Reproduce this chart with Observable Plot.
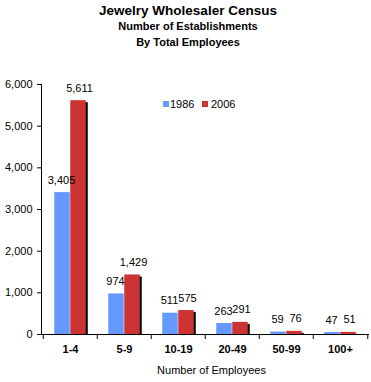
<!DOCTYPE html>
<html>
<head>
<meta charset="utf-8">
<script src="https://cdn.jsdelivr.net/npm/d3@7"></script>
<script src="https://cdn.jsdelivr.net/npm/@observablehq/plot@0.6"></script>
<style>
  body { margin: 0; background: #fff; }
  #wrap { position: relative; width: 371px; height: 382px; font-family: Arial, "Liberation Sans", sans-serif; }
  .t { position: absolute; left: 5px; width: 366px; text-align: center; font-weight: bold; color: #000; white-space: nowrap; }
  .leg { position: absolute; font-size: 11px; line-height: 11px; color: #000; }
  .sw { position: absolute; width: 6px; height: 6px; }
  svg { position: absolute; left: 0; top: 0; }
</style>
</head>
<body>
<div id="wrap">
  <div class="t" style="top:3px;font-size:13.5px;line-height:16px;">Jewelry Wholesaler Census</div>
  <div class="t" style="top:19px;font-size:11px;line-height:14px;">Number of Establishments</div>
  <div class="t" style="top:35px;font-size:11px;line-height:14px;">By Total Employees</div>
</div>
<script>
const categories = ["1-4", "5-9", "10-19", "20-49", "50-99", "100+"];
const years = ["1986", "2006"];
const values1986 = [3405, 974, 511, 263, 59, 47];
const values2006 = [5611, 1429, 575, 291, 76, 51];
const yTicks = [0, 1000, 2000, 3000, 4000, 5000, 6000];
const colors = ["#6699ff", "#cc3333"];
const xTitle = "Number of Employees";

const d1986 = categories.map((c, i) => ({cat: c, value: values1986[i]}));
const d2006 = categories.map((c, i) => ({cat: c, value: values2006[i]}));
const fmt = d3.format(",");
const lastCat = [categories[categories.length - 1]];

const chart = Plot.plot({
  width: 371,
  height: 382,
  marginTop: 84,
  marginBottom: 48,
  marginLeft: 41,
  marginRight: 3,
  style: {fontFamily: "Arial, 'Liberation Sans', sans-serif", fontSize: "11px", background: "transparent", color: "#000"},
  x: {domain: categories, padding: 0, label: null},
  y: {domain: [0, 6000], label: null},
  marks: [
    Plot.barY(d2006, {x: "cat", y: "value", fill: "#000", dx: 2, insetTop: 2, insetLeft: 27.25, insetRight: 11.25}),
    Plot.barY(d1986, {x: "cat", y: "value", fill: colors[0], insetLeft: 11.25, insetRight: 27.25}),
    Plot.barY(d2006, {x: "cat", y: "value", fill: colors[1], insetLeft: 27.25, insetRight: 11.25}),
    Plot.text(d1986, {x: "cat", y: "value", text: d => fmt(d.value), dx: -9, dy: -12.5, fontSize: 11, fill: "#000"}),
    Plot.text(d2006, {x: "cat", y: "value", text: d => fmt(d.value), dx: 9, dy: -12.5, fontSize: 11, fill: "#000"}),
    Plot.frame({anchor: "left", stroke: "#000"}),
    Plot.frame({anchor: "bottom", stroke: "#000"}),
    Plot.axisY({ticks: yTicks, tickFormat: d => fmt(d), tickSize: 4, tickPadding: 5, label: null, fontSize: 11}),
    Plot.axisX({tickSize: 0, tickPadding: 11, label: null, fontWeight: "bold", fontSize: 11}),
    Plot.ruleX(categories, {x: d => d, dx: -27.25, y1: 0, y2: -120, stroke: "#000"}),
    Plot.ruleX(lastCat, {x: d => d, dx: 27.25, y1: 0, y2: -120, stroke: "#000"}),
    Plot.text([xTitle], {text: d => d, frameAnchor: "bottom", dy: 39, dx: 6.5, fontSize: 11, fill: "#000"})
  ]
});
const wrap = document.getElementById("wrap");
wrap.appendChild(chart);

// legend
const legItems = [
  {label: years[0], color: colors[0], sx: 163, tx: 170},
  {label: years[1], color: colors[1], sx: 202, tx: 211}
];
legItems.forEach(it => {
  const s = document.createElement("div");
  s.className = "sw";
  s.style.left = it.sx + "px";
  s.style.top = "101px";
  s.style.background = it.color;
  wrap.appendChild(s);
  const t = document.createElement("div");
  t.className = "leg";
  t.style.left = it.tx + "px";
  t.style.top = "99px";
  t.textContent = it.label;
  wrap.appendChild(t);
});
</script>
</body>
</html>
